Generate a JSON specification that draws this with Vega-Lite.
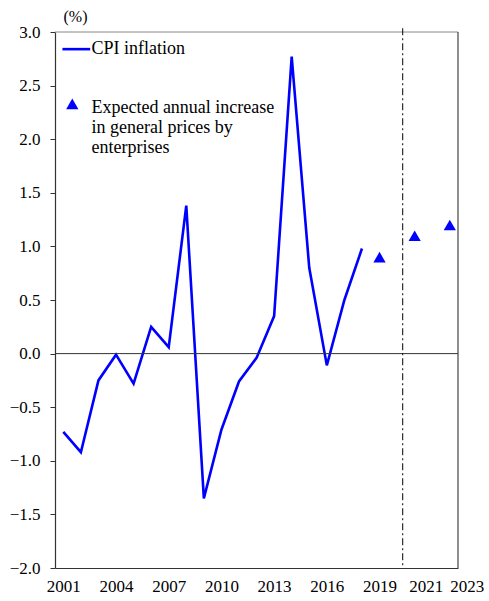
{
  "$schema": "https://vega.github.io/schema/vega-lite/v6.json",
  "width": 403,
  "height": 536,
  "autosize": "none",
  "padding": {"left": 55, "top": 32, "right": 31, "bottom": 33},
  "background": "white",
  "data": {"values": [{}]},
  "config": {
    "view": {"stroke": null},
    "font": "Liberation Serif",
    "text": {"font": "Liberation Serif"},
    "style": {"guide-label": {"font": "Liberation Serif", "fontSize": 17}, "guide-title": {"font": "Liberation Serif", "fontSize": 16}},
    "axis": {"labelFont": "Liberation Serif", "titleFont": "Liberation Serif", "labelFontSize": 17, "grid": false, "domainColor": "#333333", "tickColor": "#333333", "labelColor": "black", "titleColor": "black"}
  },
  "datasets": {
    "cpi": [
      {"year": 2001, "value": -0.73},
      {"year": 2002, "value": -0.92},
      {"year": 2003, "value": -0.25},
      {"year": 2004, "value": -0.01},
      {"year": 2005, "value": -0.28},
      {"year": 2006, "value": 0.25},
      {"year": 2007, "value": 0.06},
      {"year": 2008, "value": 1.38},
      {"year": 2009, "value": -1.35},
      {"year": 2010, "value": -0.71},
      {"year": 2011, "value": -0.26},
      {"year": 2012, "value": -0.04},
      {"year": 2013, "value": 0.35},
      {"year": 2014, "value": 2.77},
      {"year": 2015, "value": 0.80},
      {"year": 2016, "value": -0.11},
      {"year": 2017, "value": 0.50},
      {"year": 2018, "value": 0.98}
    ],
    "expected": [
      {"year": 2019, "value": 0.9},
      {"year": 2021, "value": 1.1},
      {"year": 2023, "value": 1.2}
    ]
  },
  "layer": [
    {
      "data": {"name": "cpi"},
      "mark": {"type": "line", "color": "#0000FF", "strokeWidth": 2.6},
      "encoding": {
        "x": {
          "field": "year", "type": "quantitative",
          "scale": {"domain": [2000.527, 2023.467], "nice": false, "zero": false},
          "axis": {"values": [2001, 2004, 2007, 2010, 2013, 2016, 2019, 2021, 2023], "format": "d", "title": null, "ticks": false, "labelFont": "Liberation Serif", "labelFontSize": 17, "labelPadding": 10, "labelFlush": false, "labelOverlap": false, "domainWidth": 1.2, "labelOffset": {"condition": [{"test": "datum.value == 2021", "value": 11}, {"test": "datum.value == 2023", "value": 17}], "value": 0},
            "encode": {"labels": {"update": {"font": {"value": "Liberation Serif"}, "fontSize": {"value": 17}}}}}
        },
        "y": {
          "field": "value", "type": "quantitative",
          "scale": {"domain": [-2, 3], "nice": false, "zero": false},
          "axis": {"values": [-2, -1.5, -1, -0.5, 0, 0.5, 1, 1.5, 2, 2.5, 3], "format": ".1f", "title": "(%)", "titleAngle": 0, "titleAlign": "left", "titleBaseline": "alphabetic", "titleX": 8, "titleY": -11, "titleFont": "Liberation Serif", "titleFontSize": 16, "titleFontWeight": "normal", "labelFont": "Liberation Serif", "labelFontSize": 17, "tickSize": 5, "labelPadding": 10, "domainWidth": 1.2,
            "encode": {"labels": {"update": {"font": {"value": "Liberation Serif"}, "fontSize": {"value": 17}}}, "title": {"update": {"font": {"value": "Liberation Serif"}, "fontSize": {"value": 16}}}}}
        }
      }
    },
    {
      "mark": {"type": "rule", "color": "#333333", "strokeWidth": 1},
      "encoding": {"y": {"datum": 0, "type": "quantitative"}}
    },
    {
      "mark": {"type": "rule", "color": "#888888", "strokeWidth": 1},
      "encoding": {"y": {"datum": 3, "type": "quantitative"}}
    },
    {
      "mark": {"type": "rule", "color": "black", "strokeWidth": 1, "strokeDash": [7, 3, 2, 3]},
      "encoding": {
        "x": {"datum": 2020.32, "type": "quantitative"},
        "y": {"datum": 3.035, "type": "quantitative"},
        "y2": {"datum": -2}
      }
    },
    {
      "mark": {"type": "rule", "color": "#444444", "strokeWidth": 1.2},
      "encoding": {"x": {"datum": 2023.467, "type": "quantitative"}}
    },
    {
      "data": {"name": "expected"},
      "mark": {"type": "point", "shape": "triangle-up", "filled": true, "color": "#0000FF", "size": 150, "opacity": 1},
      "encoding": {
        "x": {"field": "year", "type": "quantitative"},
        "y": {"field": "value", "type": "quantitative"}
      }
    },
    {
      "mark": {"type": "rule", "color": "#0000FF", "strokeWidth": 2.6},
      "encoding": {
        "x": {"datum": 2000.95, "type": "quantitative"},
        "x2": {"datum": 2002.53},
        "y": {"datum": 2.84, "type": "quantitative"}
      }
    },
    {
      "mark": {"type": "text", "align": "left", "baseline": "middle", "fontSize": 18, "font": "Liberation Serif", "color": "black", "text": "CPI inflation"},
      "encoding": {
        "x": {"datum": 2002.6, "type": "quantitative"},
        "y": {"datum": 2.84, "type": "quantitative"}
      }
    },
    {
      "mark": {"type": "point", "shape": "triangle-up", "filled": true, "color": "#0000FF", "size": 150, "opacity": 1},
      "encoding": {
        "x": {"datum": 2001.51, "type": "quantitative"},
        "y": {"datum": 2.33, "type": "quantitative"}
      }
    },
    {
      "mark": {"type": "text", "align": "left", "baseline": "alphabetic", "fontSize": 18, "lineHeight": 20, "font": "Liberation Serif", "color": "black", "text": ["Expected annual increase", "in general prices by", "enterprises"]},
      "encoding": {
        "x": {"datum": 2002.6, "type": "quantitative"},
        "y": {"datum": 2.24, "type": "quantitative"}
      }
    }
  ]
}
